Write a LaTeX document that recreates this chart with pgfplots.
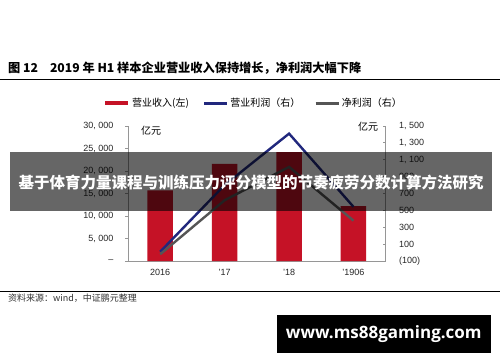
\documentclass[border=0pt]{standalone}
\usepackage{pgfplots}
\pgfplotsset{compat=1.18}
\usepackage{fontspec}
\setmainfont{Liberation Sans}
\newfontfamily\cjk{Noto Sans CJK SC}
\newfontfamily\wm{Open Sans}
\definecolor{barred}{RGB}{197,18,38}
\definecolor{opblue}{RGB}{33,40,125}
\definecolor{netgray}{RGB}{85,85,85}
\definecolor{axgray}{RGB}{150,150,150}
\begin{document}
\begin{tikzpicture}[x=1pt,y=1pt]
\useasboundingbox (0pt,0pt) rectangle (500pt,362pt);
\path[fill=white] (0pt,0pt) rectangle (500pt,362pt);
% title
\node[anchor=west,inner sep=0pt,font=\cjk\bfseries\fontsize{12.2}{14}\selectfont] at (8pt,293.7pt) {图 12\hspace{12pt}2019 年 H1 样本企业营业收入保持增长，净利润大幅下降};
\draw[line width=1pt] (0pt,282.7pt) -- (500pt,282.7pt);
\begin{axis}[
  at={(128pt,101pt)}, anchor=south west, scale only axis,
  width=257.7pt, height=135pt,
  xmin=-0.5, xmax=3.5, ymin=0, ymax=30000,
  axis x line*=bottom, axis y line*=left,
  axis line style={axgray, line width=0.8pt},
  xtick={0,1,2,3}, xticklabels={2016,{'17},{'18},{'1906}},
  x tick style={draw=none},
  ytick={0,5000,10000,15000,20000,25000,30000},
  yticklabels={{--},{5, 000},{10, 000},{15, 000},{20, 000},{25, 000},{30, 000}},
  scaled y ticks=false,
  y tick style={axgray, line width=0.8pt},
  tick align=outside, major tick length=3pt,
  ticklabel style={font=\fontsize{9}{10}\selectfont, text=black!85},
  yticklabel style={xshift=-8pt},
  xticklabel style={yshift=-2pt},
]
\addplot[ybar, bar width=25.5pt, fill=barred, draw=none] coordinates {(0,15700) (1,21600) (2,24200) (3,12200)};
\end{axis}
\begin{axis}[
  at={(128pt,101pt)}, anchor=south west, scale only axis,
  width=257.7pt, height=135pt,
  xmin=-0.5, xmax=3.5, ymin=-100, ymax=1500,
  axis x line=none, axis y line*=right,
  axis line style={axgray, line width=0.8pt},
  ytick={-100,100,300,500,700,900,1100,1300,1500},
  yticklabels={{(100)},100,300,500,700,900,{1, 100},{1, 300},{1, 500}},
  scaled y ticks=false,
  y tick style={axgray, line width=0.8pt},
  tick align=inside, major tick length=3pt,
  ticklabel style={font=\fontsize{9}{10}\selectfont, text=black!85},
  yticklabel style={xshift=10pt},
  legend columns=3,
  legend style={at={(0.487,1.168)}, anchor=center, draw=none, fill=none,
    font=\cjk\fontsize{10}{11}\selectfont, inner sep=0pt,
    /tikz/every even column/.append style={column sep=12pt}},
  legend image code/.code={\draw[#1] (0pt,0pt) -- (23pt,0pt);},
]
\addlegendimage{barred, line width=4pt}
\addlegendentry{营业收入(左)}
\addplot[opblue, line width=2.4pt] coordinates {(0,10) (1,800) (2,1410) (3,542)};
\addlegendentry{营业利润（右）}
\addplot[netgray, line width=2.4pt] coordinates {(0,-20) (1,620) (2,1015) (3,378)};
\addlegendentry{净利润（右）}
\end{axis}
\node[font=\cjk\fontsize{10}{11}\selectfont] at (151pt,231pt) {亿元};
\node[font=\cjk\fontsize{10}{11}\selectfont] at (368pt,235pt) {亿元};
% bottom
\draw[line width=0.8pt] (0pt,71pt) -- (500pt,71pt);
\node[anchor=west,inner sep=0pt,font=\cjk\fontsize{9}{10}\selectfont,text=black!80] at (8pt,63.7pt) {资料来源：wind，中证鹏元整理};
% overlay banner
\fill[black,opacity=0.6] (10pt,151.3pt) rectangle (492pt,209.7pt);
\node[font=\cjk\bfseries\fontsize{15.5}{17}\selectfont,text=white] at (251pt,179pt) {基于体育力量课程与训练压力评分模型的节奏疲劳分数计算方法研究};
% watermark
\fill[black] (276.7pt,9.3pt) rectangle (491pt,47pt);
\node[font=\wm\bfseries\fontsize{17}{19}\selectfont,text=white] at (383.8pt,28.2pt) {www.ms88gaming.com};
\end{tikzpicture}
\end{document}
